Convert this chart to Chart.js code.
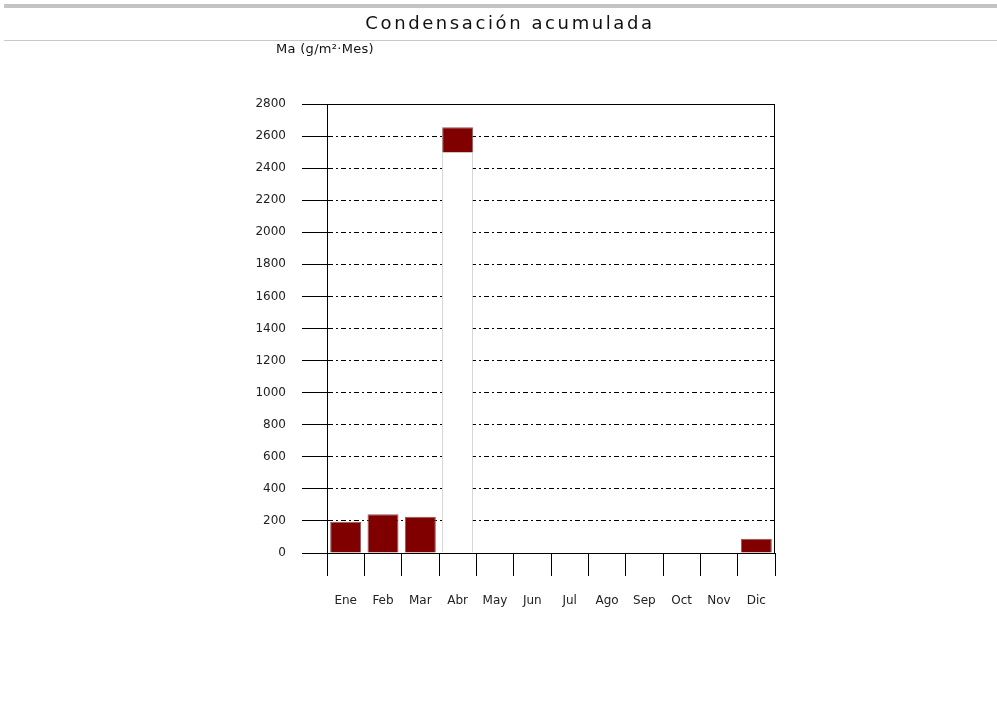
<!DOCTYPE html>
<html>
<head>
<meta charset="utf-8">
<script src="https://cdn.jsdelivr.net/npm/chart.js@4"></script>
<style>
  html, body { margin: 0; padding: 0; background: #fff; }
  #wrap { width: 997px; height: 702px; }
</style>
</head>
<body>
<div id="wrap"><canvas id="chart" width="997" height="702"></canvas></div>
<script>
const months = ["Ene", "Feb", "Mar", "Abr", "May", "Jun", "Jul", "Ago", "Sep", "Oct", "Nov", "Dic"];
// condensación acumulada por mes (g/m2·Mes)
const condensacion = [195, 241, 226, 2655, 0, 0, 0, 0, 0, 0, 0, 89];
// where the bar is cut (white part below, red part above)
const corte = [null, null, null, 2500, null, null, null, null, null, null, null, null];
const yTicks = [0, 200, 400, 600, 800, 1000, 1200, 1400, 1600, 1800, 2000, 2200, 2400, 2600, 2800];

const titleText = "Condensación acumulada";
const yTitle = "Ma (g/m²·Mes)";
const font = "'DejaVu Sans', sans-serif";

const redData = condensacion.map((v, i) => v ? [corte[i] || 0, v] : null);
const baseData = corte.map(c => c ? [0, c] : null);

const decor = {
  id: "decor",
  beforeDraw(chart) {
    const ctx = chart.ctx;
    ctx.save();
    ctx.fillStyle = "#c4c4c4";
    ctx.fillRect(4, 4, 993, 4);
    ctx.fillStyle = "#c8c8c8";
    ctx.fillRect(4, 40, 993, 1);
    ctx.fillStyle = "#111";
    ctx.font = "18px " + font;
    ctx.letterSpacing = "2.6px";
    ctx.textAlign = "center";
    ctx.textBaseline = "middle";
    ctx.fillText(titleText, 510, 24);
    ctx.font = "13px " + font;
    ctx.letterSpacing = "0.3px";
    ctx.textAlign = "left";
    ctx.fillText(yTitle, 276, 50);
    ctx.restore();
  },
  afterDraw(chart) {
    const ctx = chart.ctx;
    const y = chart.scales.y;
    const a = chart.chartArea;
    ctx.save();
    ctx.strokeStyle = "#000";
    ctx.lineWidth = 1;
    ctx.beginPath();
    const top = Math.round(y.getPixelForValue(2800)) + 0.5;
    ctx.moveTo(a.left, top);
    ctx.lineTo(a.right, top);
    ctx.moveTo(Math.round(a.right) - 0.5, top);
    ctx.lineTo(Math.round(a.right) - 0.5, a.bottom);
    ctx.stroke();
    ctx.restore();
  }
};

new Chart(document.getElementById("chart"), {
  type: "bar",
  data: {
    labels: months,
    datasets: [
      {
        data: redData,
        backgroundColor: "#800000",
        borderColor: "#8c5a5a",
        borderWidth: 1,
        grouped: false,
        barPercentage: 0.83,
        categoryPercentage: 1
      },
      {
        data: baseData,
        backgroundColor: "#ffffff",
        borderColor: "#c8c8c8",
        borderWidth: 1,
        grouped: false,
        barPercentage: 0.83,
        categoryPercentage: 1
      }
    ]
  },
  options: {
    responsive: false,
    animation: false,
    layout: { padding: { left: 227, right: 222, top: 104, bottom: 69 } },
    plugins: { legend: { display: false }, tooltip: { enabled: false }, title: { display: false } },
    scales: {
      x: {
        grid: {
          offset: true,
          drawOnChartArea: false,
          drawTicks: true,
          tickLength: 23,
          tickColor: "#000"
        },
        border: { display: true, color: "#000", width: 1 },
        ticks: { color: "#222", font: { family: font, size: 12 }, padding: 18 },
        afterFit(s) { s.height = 80; }
      },
      y: {
        min: 0,
        max: 2800,
        afterBuildTicks(s) { s.ticks = yTicks.map(v => ({ value: v })); },
        grid: {
          color: c => (c.tick && (c.tick.value === 0 || c.tick.value === 2800)) ? "rgba(0,0,0,0)" : "#000",
          tickColor: "#000",
          tickLength: 25,
          tickBorderDash: []
        },
        border: { display: true, color: "#000", width: 1, dash: [5, 3, 2, 3] },
        ticks: { color: "#222", font: { family: font, size: 12 }, padding: 16, callback: v => String(v) },
        afterFit(s) { s.width = 100; }
      }
    }
  },
  plugins: [decor]
});
</script>
</body>
</html>
